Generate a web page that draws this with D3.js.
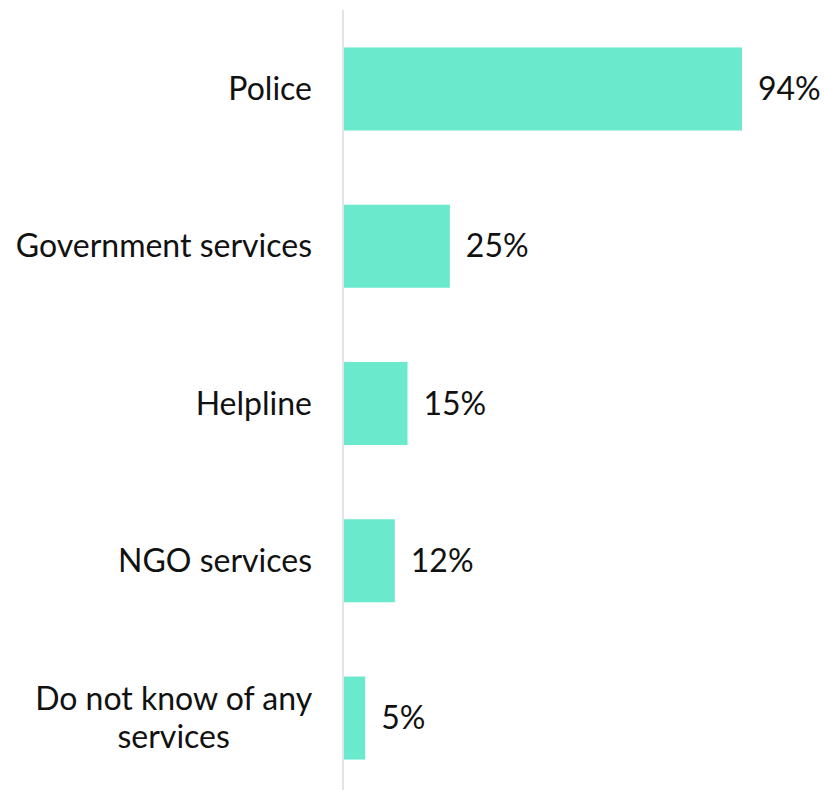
<!DOCTYPE html>
<html>
<head>
<meta charset="utf-8">
<script src="https://cdn.jsdelivr.net/npm/d3@7"></script>
<style>
  html, body { margin: 0; padding: 0; background: #fff; }
  svg { display: block; font-family: Lato, "Noto Sans", sans-serif; }
</style>
</head>
<body>
<svg id="chart" width="825" height="790"></svg>
<script>
// Services respondents know of (share of respondents, %)
const categories = ["Police", "Government services", "Helpline", "NGO services", "Do not know of any services"];
const values = [94, 25, 15, 12, 5];

const svg = d3.select("#chart");
const margin = { top: 10, left: 343 };
const width = 825, height = 790;
const fontSize = 32;

const x = d3.scaleLinear().domain([0, 94]).range([margin.left + 1, 742]);
const y = d3.scaleBand()
  .domain(categories)
  .range([13, 794])
  .paddingInner(0.472)
  .paddingOuter(0.219);

// bars
svg.selectAll("rect.bar")
  .data(categories)
  .join("rect")
  .attr("class", "bar")
  .attr("x", x(0))
  .attr("y", d => y(d))
  .attr("width", (d, i) => x(values[i]) - x(0))
  .attr("height", y.bandwidth())
  .attr("fill", "#6ae9cd");

// baseline
svg.append("line")
  .attr("x1", margin.left).attr("x2", margin.left)
  .attr("y1", margin.top).attr("y2", height)
  .attr("stroke", "#e2e4ea")
  .attr("stroke-width", 2);

// category labels, wrapped to two lines where needed
const wrap = { "Do not know of any services": ["Do not know of any", "services"] };
const lh = 38;
svg.selectAll("text.cat")
  .data(categories)
  .join("text")
  .attr("class", "cat")
  .attr("text-anchor", "middle")
  .attr("font-size", fontSize)
  .attr("fill", "#111")
  .each(function (d) {
    const lines = wrap[d] || [d];
    const t = d3.select(this);
    const cy = y(d) + y.bandwidth() / 2 - (lines.length - 1) * lh / 2;
    lines.forEach((ln, i) => {
      t.append("tspan")
        .attr("dy", i === 0 ? "0.35em" : lh)
        .text(ln);
    });
    const spans = t.selectAll("tspan");
    const wmax = d3.max(spans.nodes(), n => n.getComputedTextLength());
    const cx = margin.left - 31 - wmax / 2;
    t.attr("y", cy);
    spans.attr("x", cx);
    spans.filter((s, i) => i === 0).attr("y", cy);
  });

// value labels
svg.selectAll("text.val")
  .data(categories)
  .join("text")
  .attr("class", "val")
  .attr("x", (d, i) => x(values[i]) + 16)
  .attr("y", d => y(d) + y.bandwidth() / 2)
  .attr("dy", "0.35em")
  .attr("font-size", fontSize)
  .attr("fill", "#111")
  .text((d, i) => values[i] + "%");
</script>
</body>
</html>
